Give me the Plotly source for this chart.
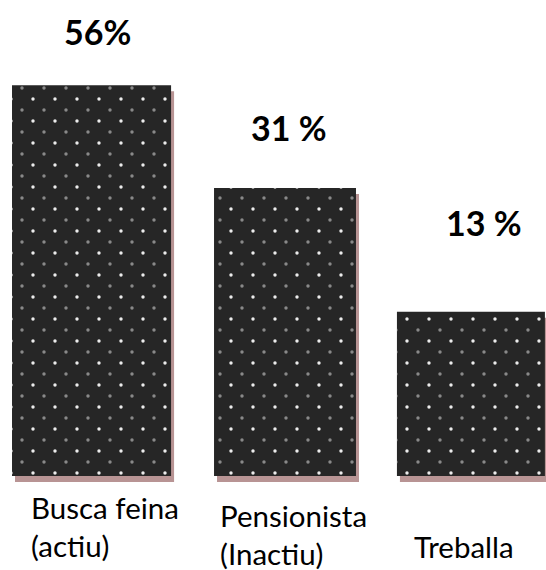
import plotly.graph_objects as go

# ---- data ----
categories = ["Busca feina", "Pensionista", "Treballa"]
category_labels = ["Busca feina<br>(actiu)", "Pensionista<br>(Inactiu)", "Treballa"]
value_labels = ["56%", "31 %", "13 %"]
values = [56, 31, 13]
# drawn bar heights (the picture's bars are not to scale), in axis units 0-100
bar_heights = [82.1, 60.5, 34.5]

# ---- styling ----
W, H = 546, 570
bar_widths = [0.874, 0.780, 0.813]
bar_offsets = [-0.434, -0.324, -0.319]
px_x = 1 / 182.0          # one pixel in x-axis units
px_y = 100 / 476.0        # one pixel in y-axis units
shadow_dx, shadow_dy = 3, 6
dot_tile = 22             # pattern tile size (px)
half = dot_tile / 2       # offset of the second dot lattice (staggered look)
dot_color = "#ececec"

fig = go.Figure()

# shadow
fig.add_trace(go.Bar(
    x=categories, y=bar_heights,
    base=[-shadow_dy * px_y] * len(categories),
    width=bar_widths,
    offset=[o + shadow_dx * px_x for o in bar_offsets],
    marker=dict(color="#b89494", line=dict(width=0)),
    hoverinfo="skip", showlegend=False,
))

# main bars with dotted pattern
fig.add_trace(go.Bar(
    x=categories, y=bar_heights,
    width=bar_widths, offset=bar_offsets,
    marker=dict(
        color="#262626", line=dict(width=0),
        pattern=dict(shape=".", fgcolor=dot_color, bgcolor="#262626",
                     size=dot_tile, solidity=0.019, fillmode="replace"),
    ),
    customdata=values,
    hovertemplate="%{x}: %{customdata}%<extra></extra>",
    showlegend=False,
))

# same bars on an offset subplot -> second dot lattice shifted by half a tile
fig.add_trace(go.Bar(
    x=categories, y=bar_heights,
    width=bar_widths, offset=bar_offsets,
    xaxis="x2", yaxis="y2",
    marker=dict(
        color="rgba(0,0,0,0)", line=dict(width=0),
        pattern=dict(shape=".", fgcolor=dot_color, bgcolor="rgba(0,0,0,0)",
                     size=dot_tile, solidity=0.019, fillmode="overlay"),
    ),
    hoverinfo="skip", showlegend=False,
))

annotations = []
val_pos = [(97, 32), (289, 127), (484, 222)]
for t, (px, py) in zip(value_labels, val_pos):
    annotations.append(dict(
        text=t, x=px / W, y=1 - py / H, xref="paper", yref="paper",
        xanchor="center", yanchor="middle", showarrow=False,
        font=dict(family="Lato", size=34, color="#000000", weight="bold"),
    ))

cat_pos = [(29, 526), (218, 534), (412, 546)]
for t, (px, py) in zip(category_labels, cat_pos):
    annotations.append(dict(
        text=t, x=px / W, y=1 - py / H, xref="paper", yref="paper",
        xanchor="left", yanchor="middle", align="left", showarrow=False,
        font=dict(family="Lato", size=29.5, color="#000000"),
    ))

fig.update_layout(
    width=W, height=H,
    margin=dict(l=0, r=0, t=0, b=0),
    paper_bgcolor="white", plot_bgcolor="rgba(0,0,0,0)",
    barmode="overlay",
    xaxis=dict(range=[-0.5, 2.5], visible=False, fixedrange=True, domain=[0, 1]),
    yaxis=dict(range=[-94 * px_y, 100], visible=False, fixedrange=True, domain=[0, 1]),
    xaxis2=dict(range=[-0.5 + half * px_x, 2.5], visible=False, fixedrange=True,
                domain=[half / W, 1], anchor="y2"),
    yaxis2=dict(range=[-94 * px_y, 100 - half * px_y], visible=False, fixedrange=True,
                domain=[0, 1 - half / H], anchor="x2"),
    annotations=annotations,
)

fig.write_html("out.html", config={"displayModeBar": False},
               post_script="document.body.style.margin='0px';")
